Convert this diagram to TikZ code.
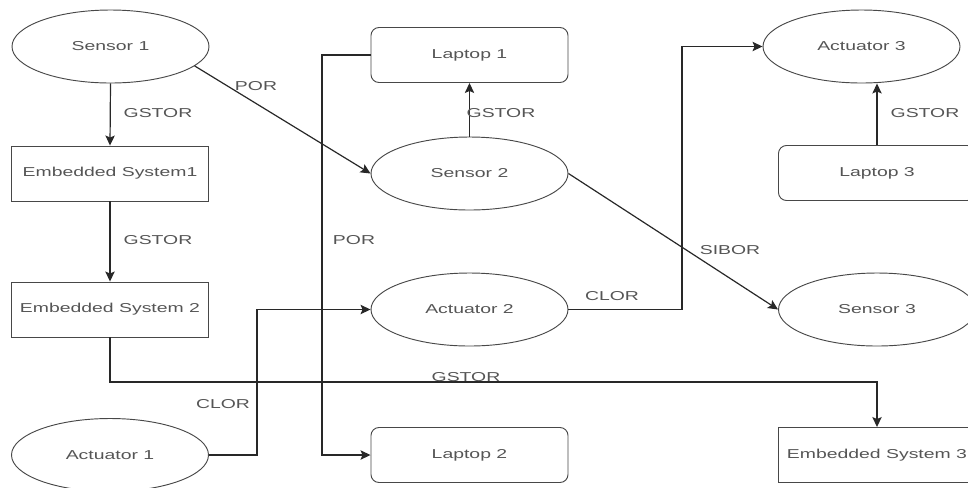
\documentclass[tikz,border=0pt]{standalone}
\usepackage{fontspec}
\newfontfamily\diafont[FakeStretch=1.5]{Liberation Sans}
\usetikzlibrary{shapes.geometric,arrows.meta}
\definecolor{txtgray}{RGB}{85,85,85}
\definecolor{linegray}{RGB}{40,40,40}
\begin{document}
\begin{tikzpicture}[x=0.75pt,y=-0.75pt,
  every node/.style={font=\diafont\fontsize{9.7pt}{11pt}\selectfont, text=txtgray, inner sep=0pt},
  oval/.style={ellipse, draw=linegray!85, line width=0.7pt, minimum width=147.75pt, minimum height=54.75pt},
  box/.style={rectangle, draw=linegray!85, line width=0.7pt, minimum width=147.75pt, minimum height=41.25pt},
  rbox/.style={box, rounded corners=6pt},
  conn/.style={draw=linegray, line width=0.9pt, -{Stealth[length=7.5pt,width=7pt,inset=1.5pt]}},
  lbl/.style={fill=none}
]
\useasboundingbox (0,0) rectangle (968,487);

% left column
\node[oval] (s1)  at (110.5,46.5) {Sensor 1};
\node[box]  (es1) at (110,173.5)  {Embedded System1};
\node[box]  (es2) at (110,309.5)  {Embedded System 2};
\node[oval] (a1)  at (110,455)    {Actuator 1};

% middle column
\node[rbox] (l1) at (469.5,55)    {Laptop 1};
\node[oval] (s2) at (469.5,173.5) {Sensor 2};
\node[oval] (a2) at (469.5,309.5) {Actuator 2};
\node[rbox] (l2) at (469.5,455)   {Laptop 2};

% right column
\node[oval] (a3)  at (861.5,46.5) {Actuator 3};
\node[rbox] (l3)  at (877,173)    {Laptop 3};
\node[oval] (s3)  at (877,309.5)  {Sensor 3};
\node[box]  (es3) at (877,455)    {Embedded System 3};

% bend points of the orthogonal connectors
\coordinate (porx) at (322,55);
\coordinate (clx1) at (257,455);
\coordinate (clx2) at (682,309.5);
\coordinate (gsy)  at (110,382);

% connectors
\draw[conn] (s1.south) -- (es1.north);
\draw[conn] (es1.south) -- (es2.north);
\draw[conn] (s1.-13.5) -- (s2.west);
\draw[conn] (s2.north) -- (l1.south);
\draw[conn] (l1.west) -- (porx) |- (l2.west);
\draw[conn] (a1.east) -- (clx1) |- (a2.west);
\draw[conn] (a2.east) -- (clx2) |- (a3.west);
\draw[conn] (s2.east) -- (s3.west);
\draw[conn] (l3.north) -- (l3.north |- a3.south);
\draw[conn] (es2.south) -- (gsy) -| (es3.north);

% connector labels
\node[lbl] (t1)  at (158,113) {GSTOR};
\node[lbl] (t2)  at (158,240) {GSTOR};
\node[lbl] (t3)  at (256,86)  {POR};
\node[lbl] (t4)  at (501,113) {GSTOR};
\node[lbl] (t5)  at (354,240) {POR};
\node[lbl] (t6)  at (223,404) {CLOR};
\node[lbl] (t7)  at (612,296) {CLOR};
\node[lbl] (t8)  at (730,250) {SIBOR};
\node[lbl] (t9)  at (925,113) {GSTOR};
\node[lbl] (t10) at (466,377) {GSTOR};
\end{tikzpicture}
\end{document}
